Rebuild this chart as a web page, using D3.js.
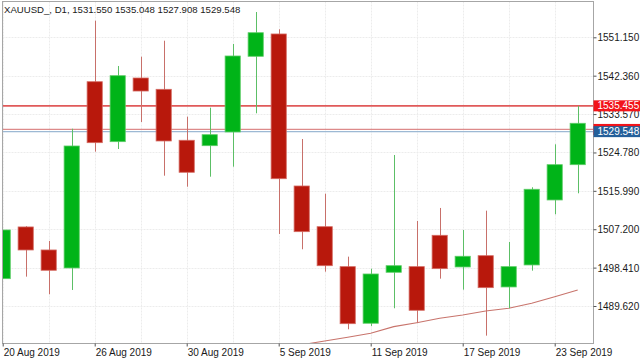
<!DOCTYPE html>
<html>
<head>
<meta charset="utf-8">
<script src="https://cdn.jsdelivr.net/npm/d3@7"></script>
<style>
  html, body { margin: 0; padding: 0; background: #ffffff; }
  svg { display: block; font-family: "Liberation Sans", Arial, sans-serif; }
</style>
</head>
<body>
<svg id="chart" width="640" height="360"></svg>
<script>
// ---- data ----
const titleText = "XAUUSD_, D1, 1531.550 1535.048 1527.908 1529.548";
const dates = ["20 Aug","21 Aug","22 Aug","23 Aug","26 Aug","27 Aug","28 Aug","29 Aug","30 Aug",
  "2 Sep","3 Sep","4 Sep","5 Sep","6 Sep","9 Sep","10 Sep","11 Sep","12 Sep","13 Sep",
  "16 Sep","17 Sep","18 Sep","19 Sep","20 Sep","23 Sep","24 Sep"];
const opens  = [1495.88,1507.72,1502.45,1498.33,1540.98,1527.25,1541.83,1539.24,1527.57,1526.33,1529.47,1546.80,1551.91,1517.10,1507.78,1498.63,1485.67,1497.34,1498.63,1505.81,1498.56,1501.14,1493.98,1499.02,1513.90,1521.98];
const highs  = [1507.03,1507.90,1504.51,1530.22,1554.95,1544.58,1546.71,1550.37,1532.97,1535.03,1549.62,1556.94,1552.98,1527.86,1515.34,1500.92,1498.17,1524.20,1509.09,1512.07,1507.03,1511.45,1504.28,1516.81,1526.65,1535.42];
const lows   = [1495.88,1496.34,1492.31,1493.29,1524.96,1525.57,1531.76,1519.46,1516.94,1519.23,1521.52,1533.75,1506.11,1502.61,1497.48,1484.29,1485.05,1489.10,1485.80,1495.88,1493.36,1482.83,1489.10,1497.71,1510.62,1515.43];
const closes = [1507.03,1502.45,1497.80,1526.26,1527.02,1542.36,1538.85,1527.41,1520.24,1528.85,1546.87,1552.20,1518.77,1506.64,1498.85,1485.57,1496.95,1498.85,1488.64,1498.17,1501.01,1493.82,1498.63,1516.35,1521.98,1531.46];
// moving average (only the visible part, from bar index 12)
const maStart = 12;
const maValues = [1479.90,1480.74,1481.61,1482.46,1483.38,1484.89,1485.80,1486.81,1487.57,1488.48,1489.10,1490.25,1491.76,1493.29];
const yTickValues = [1551.150,1542.360,1533.570,1524.780,1515.990,1507.200,1498.410,1489.620];
const xTickIndex = [0,4,8,12,16,20,24];
const xTickLabels = ["20 Aug 2019","26 Aug 2019","30 Aug 2019","5 Sep 2019","11 Sep 2019","17 Sep 2019","23 Sep 2019"];
const hLineLevel = 1535.455;
const askLevel = 1530.05;
const bidLevel = 1529.548;

// ---- layout ----
const W = 640, H = 360;
const plot = { left: 2.5, right: 593.5, top: 1.5, bottom: 343.5 };

const svg = d3.select("#chart");

// x: bar index -> pixel
const x = d3.scaleLinear().domain([0, dates.length - 1]).range([2.7, 2.7 + 23 * (dates.length - 1)]);
const step = x(1) - x(0);
const bodyW = step * 0.66;

// y: anchor two tick values, then widen domain to plot area
const y0 = d3.scaleLinear().domain([1489.62, 1551.15]).range([306.0, 37.3]);
const y = d3.scaleLinear()
  .domain([y0.invert(plot.bottom), y0.invert(plot.top)])
  .range([plot.bottom, plot.top]);

svg.append("defs").append("clipPath").attr("id", "clip")
  .append("rect")
  .attr("x", plot.left).attr("y", plot.top)
  .attr("width", plot.right - plot.left).attr("height", plot.bottom - plot.top);

// grid
const grid = svg.append("g").attr("clip-path", "url(#clip)");
grid.selectAll("line.hg").data(yTickValues).join("line")
  .attr("x1", plot.left).attr("x2", plot.right)
  .attr("y1", d => Math.round(y(d)) + 0.5).attr("y2", d => Math.round(y(d)) + 0.5)
  .attr("stroke", "#ececec").attr("stroke-width", 1).attr("stroke-dasharray", "2,1");
grid.selectAll("line.vg").data(d3.range(0, dates.length, 2)).join("line")
  .attr("x1", d => Math.round(x(d)) + 0.5).attr("x2", d => Math.round(x(d)) + 0.5)
  .attr("y1", plot.top).attr("y2", plot.bottom)
  .attr("stroke", "#ececec").attr("stroke-width", 1).attr("stroke-dasharray", "2,1");

// horizontal price lines
const lines = svg.append("g").attr("clip-path", "url(#clip)");
lines.append("line").attr("x1", plot.left).attr("x2", plot.right)
  .attr("y1", y(hLineLevel)).attr("y2", y(hLineLevel))
  .attr("stroke", "#e05a5a").attr("stroke-width", 1.6);
lines.append("line").attr("x1", plot.left).attr("x2", plot.right)
  .attr("y1", y(askLevel)).attr("y2", y(askLevel))
  .attr("stroke", "#dd8a8a").attr("stroke-width", 1.2);
lines.append("line").attr("x1", plot.left).attr("x2", plot.right)
  .attr("y1", y(bidLevel)).attr("y2", y(bidLevel))
  .attr("stroke", "#9db9d4").attr("stroke-width", 1.2);

// moving average
const ma = svg.append("g").attr("clip-path", "url(#clip)");
ma.append("path")
  .datum(maValues.map((v, i) => [maStart + i, v]))
  .attr("fill", "none").attr("stroke", "#c8746c").attr("stroke-width", 1.1)
  .attr("d", d3.line().x(d => x(d[0])).y(d => y(d[1])));

// candles
const bars = dates.map((d, i) => ({ i, o: opens[i], h: highs[i], l: lows[i], c: closes[i] }));
const cg = svg.append("g").attr("clip-path", "url(#clip)");
const up = { body: "#00b418", edge: "#5ccc66", wick: "#5cbf66" };
const dn = { body: "#b8180c", edge: "#d46a62", wick: "#c8706a" };
const candle = cg.selectAll("g.c").data(bars).join("g");
candle.append("line")
  .attr("x1", d => Math.round(x(d.i)) + 0.5).attr("x2", d => Math.round(x(d.i)) + 0.5)
  .attr("y1", d => y(d.h)).attr("y2", d => y(d.l))
  .attr("stroke", d => d.c >= d.o ? up.wick : dn.wick).attr("stroke-width", 1);
candle.append("rect")
  .attr("x", d => x(d.i) - bodyW / 2)
  .attr("y", d => y(Math.max(d.o, d.c)))
  .attr("width", bodyW)
  .attr("height", d => Math.max(1, Math.abs(y(d.o) - y(d.c))))
  .attr("fill", d => d.c >= d.o ? up.body : dn.body)
  .attr("stroke", d => d.c >= d.o ? up.edge : dn.edge).attr("stroke-width", 0.8);

// frame
svg.append("rect")
  .attr("x", plot.left).attr("y", plot.top)
  .attr("width", plot.right - plot.left).attr("height", plot.bottom - plot.top)
  .attr("fill", "none").attr("stroke", "#a6a6a6").attr("stroke-width", 1);

// right axis
const yAxis = d3.axisRight(y).tickValues(yTickValues).tickFormat(d3.format(".3f"))
  .tickSize(3).tickPadding(1);
const ya = svg.append("g").attr("transform", `translate(${plot.right},0)`).call(yAxis);
ya.select(".domain").remove();
ya.selectAll(".tick line").attr("stroke", "#555");
ya.selectAll(".tick text").attr("fill", "#1a1a1a").attr("font-size", "10px")
  .attr("font-family", "'Liberation Sans', Arial, sans-serif").attr("dy", "0.34em");

// price labels on the right
function priceLabel(v, bg, withText) {
  const g = svg.append("g").attr("transform", `translate(${plot.right},${y(v)})`);
  g.append("rect").attr("x", 0).attr("y", -5.5).attr("width", W - plot.right).attr("height", 11).attr("fill", bg);
  if (withText) {
    g.append("text").attr("x", 4).attr("y", 0).attr("dy", "0.35em")
      .attr("fill", "#ffffff").attr("font-size", "10px").text(d3.format(".3f")(v));
  }
}
priceLabel(hLineLevel, "#f2141a", true);
priceLabel(askLevel, "#f2141a", false);   // hidden behind the bid label, only its edge shows
priceLabel(bidLevel, "#245f9a", true);

// bottom axis
const xAxis = d3.axisBottom(x).tickValues(xTickIndex)
  .tickFormat((d, i) => xTickLabels[i]).tickSize(3).tickPadding(2);
const xa = svg.append("g").attr("transform", `translate(0,${plot.bottom})`).call(xAxis);
xa.select(".domain").remove();
xa.selectAll(".tick line").attr("stroke", "#555");
xa.selectAll(".tick text").attr("text-anchor", "start").attr("x", 0.5)
  .attr("fill", "#1a1a1a").attr("font-size", "10px")
  .attr("font-family", "'Liberation Sans', Arial, sans-serif");

// title
svg.append("text").attr("x", 4).attr("y", 12.5)
  .attr("font-size", "9.6px").attr("fill", "#1a1a1a").text(titleText);
</script>
</body>
</html>
